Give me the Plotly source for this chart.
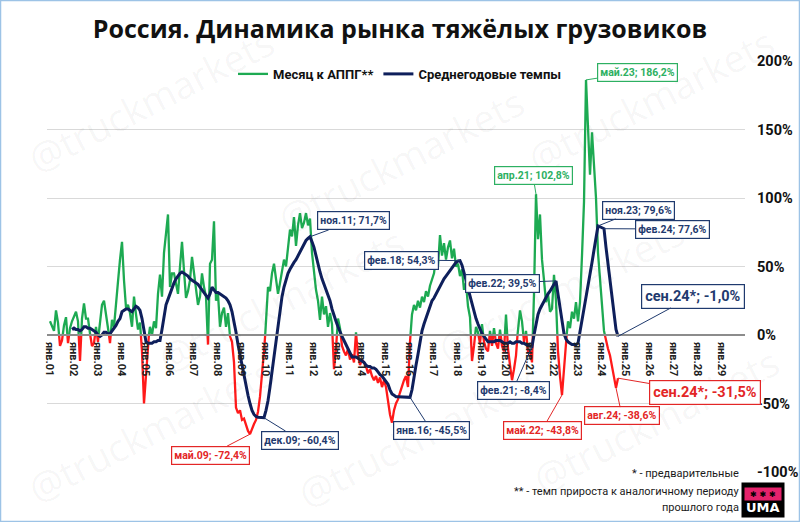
import plotly.graph_objects as go

# ---------------- data ----------------
years = list(range(2001, 2030))
month_abbr = ["янв", "фев", "мар", "апр", "май", "июн", "июл", "авг", "сен", "окт", "ноя", "дек"]
categories = [f"{month_abbr[i]}.{y % 100:02d}" for y in years for i in range(12)]

# month-to-same-month-of-previous-year growth, %, янв.01 .. сен.24
monthly_yoy = [
    10, 6, 3, 18, 9, -8, -4, 7, 13, -6, 5, 10,                 # 2001
    14, 17, 10, -19, 12, 23, 12, 12, 1, -8, -6, 6,             # 2002
    -5, 11, 22, 25, 16, 6, -6, 11, 6, 20, 39, 55,              # 2003
    68, 40, 20, 22, 16, 6, 28, 15, 4, 9, -12, -50,             # 2004
    -28, -5, 6, 0, 10, 5, 30, 44, 28, 60, 75, 88,              # 2005
    35, 45, 45, 38, 30, 50, 68, 47, 27, 32, 40, 57,            # 2006
    45, 33, 22, 28, 45, 35, 28, -7, 52, 55, 83, 25,            # 2007
    30, 6, 16, 20, 6, 16, -1, -5, -20, -53, -57, -55,          # 2008
    -62, -61, -65, -70, -72.4, -68, -65, -62, -56, -45, -30, -12,  # 2009
    8, 35, 32, 45, 52, 42, 30, 38, 48, 55, 50, 65,             # 2010
    77, 72, 86, 65, 80, 89, 78, 82, 89, 80, 85, 60,            # 2011
    45, 33, 25, 11, 28, 15, 21, 6, 16, 8, -25, -10,            # 2012
    12, 5, -8, -12, -15, -10, -18, -14, -20, 2, -15, -22,      # 2013
    -18, -20, -23, -28, -25, -30, -33, -30, -35, -31, -38, -33,  # 2014
    -38, -48, -58, -64, -55, -50, -47, -42, -37, -33, -30, -38,  # 2015
    -5, 15, 22, 18, 25, 20, 28, 24, 32, 28, 36, 40,            # 2016
    45, 57, 50, 73, 58, 67, 55, 64, 69, 56, 63, 50,            # 2017
    52, 43, 48, 33, 38, 21, 13, -19, -8, 6, 2, -6,             # 2018
    8, -5, -10, -12, 3, -8, 5, -6, -10, 4, -8, -12,            # 2019
    15, -10, -22, -33, -25, -15, 5, 18, 10, -5, 3, -12,        # 2020
    -12, -20, 30, 102.8, 70, 88, 55, 40, 24, 30, 17, 19,       # 2021
    44, 25, -12, -30, -43.8, -25, -5, 10, 5, 17, 12, 24,       # 2022
    10, 24, 58, 97, 186.2, 150, 117, 148, 126, 100, 60, 39,    # 2023
    19, 3, -4, -10, -15, -24, -30, -38.6, -31.5,               # 2024
]

# average annual growth (rolling), %
annual_avg = [None] * 11 + [
    4,                                                          # дек.01
    5, 4, 4, 3, 4, 6, 6, 5, 5, 4, 3, 2,                         # 2002
    0, -1, 0, 2, 2, 1, 1, 3, 5, 7, 10, 12,                      # 2003
    17, 18, 19, 19, 18, 17, 19, 21, 20, 18, 12, 4,              # 2004
    -5, -6, -6, -6, -5, -5, -4, -4, 4, 14, 22, 26,              # 2005
    30, 35, 38, 41, 43, 45, 46, 45, 44, 43, 41, 40,             # 2006
    39, 38, 37, 35, 33, 31, 29, 27, 30, 35, 33, 31,             # 2007
    31, 30, 29, 28, 27, 25, 22, 17, 10, 2, -7, -15,             # 2008
    -22, -30, -37, -44, -50, -55, -58, -59.5, -60, -60.2, -60.3, -60.4,  # 2009
    -55, -48, -38, -27, -15, -5, 7, 18, 28, 35, 40, 45,         # 2010
    48, 51, 53, 55, 58, 61, 64, 67, 69, 70.5, 71.7, 68,         # 2011
    64, 58, 51, 46, 41, 37, 34, 30, 25, 19, 14, 10,             # 2012
    6, 2, -1, -4, -7, -11, -14, -16, -16, -16, -17, -18,        # 2013
    -19, -20, -22, -23, -23, -24, -24, -25, -27, -29, -30, -32,  # 2014
    -34, -36, -40, -43, -44, -45, -45, -45, -45, -45.2, -45.3, -45.4,  # 2015
    -45.5, -40, -30, -22, -14, -4, 3, 8, 12, 16, 20, 25,        # 2016
    27, 30, 33, 36, 39, 41, 43, 45, 47, 49, 51, 53,             # 2017
    54, 54.3, 51, 46, 40, 34, 28, 22, 16, 12, 8, 4,             # 2018
    1, -1, -3, -5, -5, -5, -5, -4, -4, -4, -5, -6,              # 2019
    -6, -6, -5, -6, -6, -5, -5, -5, -6, -6, -7, -7,             # 2020
    -8, -8.4, 0, 8, 15, 19, 22, 25, 27, 30, 32, 35,             # 2021
    37, 39.5, 30, 20, 10, 1, -3, -5, -6, -7, -7, -7,            # 2022
    -6, 2, 10, 18, 26, 34, 45, 53, 62, 71, 79.6, 79,            # 2023
    78.3, 77.6, 64, 52, 40, 27, 14, 4, -1.0,                    # 2024
]

y_tickvals = [-100, -50, 0, 50, 100, 150, 200]
y_ticktext = ["-100%", "-50%", "0%", "50%", "100%", "150%", "200%"]
x_tickvals = list(range(0, len(categories), 12))
x_ticktext = [categories[i] for i in x_tickvals]

# callouts: (category, series, colour key, box centre px, font size, star)
callouts = [
    ("ноя.11", "avg", "navy", (353, 221), 10.5, ""),
    ("фев.18", "avg", "navy", (401, 260), 10.5, ""),
    ("фев.22", "avg", "navy", (502, 283), 10.5, ""),
    ("апр.21", "mon", "green", (533, 176), 10.5, ""),
    ("май.23", "mon", "green", (637, 72), 10.5, ""),
    ("ноя.23", "avg", "navy", (638, 210), 10.5, ""),
    ("фев.24", "avg", "navy", (672, 229), 10.5, ""),
    ("сен.24", "avg", "navy", (693, 296), 14.5, "*"),
    ("сен.24", "mon", "red", (705, 393), 14.5, "*"),
    ("авг.24", "mon", "red", (622, 416), 10.5, ""),
    ("май.22", "mon", "red", (542, 430), 10.5, ""),
    ("фев.21", "avg", "navy", (513, 390), 10.5, ""),
    ("янв.16", "avg", "navy", (431, 430), 10.5, ""),
    ("дек.09", "avg", "navy", (300, 440), 10.5, ""),
    ("май.09", "mon", "red", (210, 455), 10.5, ""),
]

# ---------------- layout geometry ----------------
W, H = 800, 522
ML, MR, MT, MB = 47, 55, 61, 50
PW, PH = W - ML - MR, H - MT - MB
XR = [-1.5, len(categories) - 0.5]
YR = [-100, 200]

GREEN, RED, NAVY = "#1DAA52", "#FF1A1A", "#0E1F5B"
BOX = {"navy": ("#1F3A6E", "#1F3A6E"), "red": ("#E32626", "#E32626"), "green": ("#2DB062", "#2DB062")}
FONT = "Roboto, 'Open Sans', 'DejaVu Sans', sans-serif"


def to_px_x(xv):
    return ML + (xv - XR[0]) / (XR[1] - XR[0]) * PW


def to_px_y(yv):
    return MT + (YR[1] - yv) / (YR[1] - YR[0]) * PH


def paper_x(px):
    return (px - ML) / PW


def paper_y(py):
    return (H - MB - py) / PH


# split monthly series into positive (green) and negative (red) runs
xs = list(range(len(monthly_yoy)))
gx, gy, rx, ry = [], [], [], []
for i, v in enumerate(monthly_yoy):
    if i > 0:
        pv = monthly_yoy[i - 1]
        if (pv >= 0) != (v >= 0):
            t = pv / (pv - v)
            xc = xs[i - 1] + t * (xs[i] - xs[i - 1])
            if pv >= 0:
                gx += [xc, None]; gy += [0, None]
                rx += [xc]; ry += [0]
            else:
                rx += [xc, None]; ry += [0, None]
                gx += [xc]; gy += [0]
    if v >= 0:
        gx.append(xs[i]); gy.append(v)
    else:
        rx.append(xs[i]); ry.append(v)

fig = go.Figure()
fig.add_trace(go.Scatter(x=gx, y=gy, mode="lines", name="Месяц к АППГ**",
                         line=dict(color=GREEN, width=2.3), connectgaps=False))
fig.add_trace(go.Scatter(x=rx, y=ry, mode="lines", name="neg", showlegend=False,
                         line=dict(color=RED, width=2.3), connectgaps=False))
fig.add_trace(go.Scatter(x=list(range(len(annual_avg))), y=annual_avg, mode="lines",
                         name="Среднегодовые темпы", line=dict(color=NAVY, width=3)))

annotations = []


def paper_ann(cx, cy, **kw):
    d = dict(x=paper_x(cx), y=paper_y(cy), xref="paper", yref="paper", showarrow=False,
             xanchor="center", yanchor="middle")
    d.update(kw)
    return d


# watermarks (kept fully inside the picture)
for (cx, cy) in [(150, 100), (400, 160), (650, 100), (280, 300), (560, 290),
                 (150, 430), (420, 435), (655, 420)]:
    annotations.append(paper_ann(cx, cy, text="@truckmarkets", textangle=-27,
                                 font=dict(family="'Open Sans', sans-serif", size=38,
                                           color="rgba(0,0,0,0.045)")))

for cat, series, ck, (bx, by), fs, star in callouts:
    idx = categories.index(cat)
    val = annual_avg[idx] if series == "avg" else monthly_yoy[idx]
    txt = f"{cat}{star}; " + f"{val:.1f}".replace(".", ",") + "%"
    col, border = BOX[ck]
    ax = bx - to_px_x(idx)
    ay = by - to_px_y(val)
    annotations.append(dict(x=idx, y=val, xref="x", yref="y", text=f"<b>{txt}</b>",
                            showarrow=True, arrowhead=0, arrowwidth=1, arrowcolor=border,
                            ax=ax, ay=ay, standoff=0,
                            font=dict(family=FONT, size=fs, color=col),
                            bgcolor="white", bordercolor=border, borderwidth=1.2,
                            borderpad=2 if fs < 12 else 3))

# footnotes
for txt, cy in [("* - предварительные", 473), ("** - темп прироста к аналогичному периоду", 491),
                ("прошлого года", 508)]:
    annotations.append(paper_ann(741, cy, text=txt, xanchor="right",
                                 font=dict(family=FONT, size=11, color="#1a1a1a")))

# logo (placed just below the -100% tick label)
annotations.append(paper_ann(763, 500, text=" ", width=40, height=32, bgcolor="black"))
annotations.append(paper_ann(763, 494, text="<b>✱ ✱ ✱</b>", width=34, height=10,
                             bgcolor="#E5226B", font=dict(family="DejaVu Sans", size=8, color="black")))
annotations.append(paper_ann(763, 508, text="<b>UMA</b>",
                             font=dict(family="'DejaVu Sans', sans-serif", size=13, color="white")))

fig.update_layout(
    width=W, height=H,
    margin=dict(l=ML, r=MR, t=MT, b=MB, pad=0, autoexpand=False),
    paper_bgcolor="white", plot_bgcolor="white",
    title=dict(text="<b>Россия. Динамика рынка тяжёлых грузовиков</b>",
               x=0.5, xref="container", xanchor="center",
               y=1 - 29 / H, yref="container", yanchor="middle",
               font=dict(family="'Open Sans', sans-serif", size=25, color="#111")),
    showlegend=True,
    legend=dict(orientation="h", x=paper_x(400), xanchor="center", y=1.005, yanchor="top",
                bgcolor="rgba(0,0,0,0)", font=dict(family=FONT, size=13, color="#111", weight="bold"),
                itemwidth=30, traceorder="normal", tracegroupgap=0),
    xaxis=dict(range=XR, tickvals=x_tickvals, ticktext=x_ticktext, tickangle=90,
               anchor="free", position=(0 - YR[0]) / (YR[1] - YR[0]), automargin=False,
               showline=True, linecolor="#8c8c8c", linewidth=1.5, showgrid=False,
               zeroline=False, ticks="", ticklabelstandoff=4,
               tickfont=dict(family=FONT, size=11, color="#222", weight="bold")),
    yaxis=dict(range=YR, tickvals=y_tickvals, ticktext=y_ticktext, side="right",
               automargin=False,
               showgrid=True, gridcolor="#d9d9d9", gridwidth=1, zeroline=False,
               showline=False, ticks="", ticklabelstandoff=11,
               tickfont=dict(family=FONT, size=14.5, color="#111", weight="bold")),
    annotations=annotations,
    shapes=[dict(type="rect", xref="paper", yref="paper",
                 x0=paper_x(0.5), x1=paper_x(W - 0.5), y0=paper_y(H - 0.5), y1=paper_y(0.5),
                 line=dict(color="#9DC3E6", width=1.5), layer="above")],
)

fig.write_html("out.html")
